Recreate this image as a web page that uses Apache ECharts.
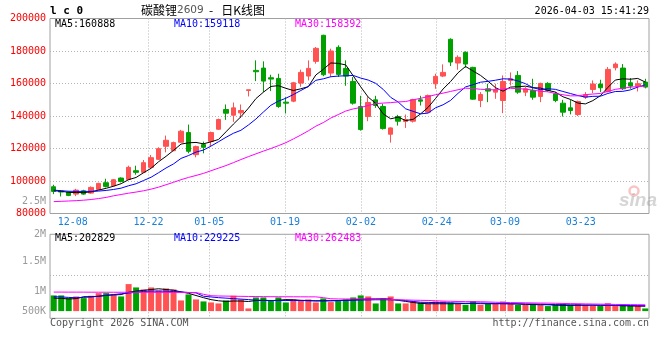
<!DOCTYPE html>
<html><head><meta charset="utf-8">
<script src="https://cdn.jsdelivr.net/npm/echarts@6/dist/echarts.min.js"></script>
<style>html,body{margin:0;padding:0;background:#fff}#c{width:660px;height:360px}</style>
</head><body><div id="c"></div>
<script>
const dates = ['12-03','12-04','12-05','12-08','12-09','12-10','12-11','12-12','12-15','12-16','12-17','12-18','12-19','12-22','12-23','12-24','12-25','12-26','12-29','12-30','12-31','01-05','01-06','01-07','01-08','01-09','01-12','01-13','01-14','01-15','01-16','01-19','01-20','01-21','01-22','01-23','01-26','01-27','01-28','01-29','01-30','02-02','02-03','02-04','02-05','02-06','02-09','02-10','02-11','02-12','02-13','02-24','02-25','02-26','02-27','03-02','03-03','03-04','03-05','03-06','03-09','03-10','03-11','03-12','03-13','03-16','03-17','03-18','03-19','03-20','03-23','03-24','03-25','03-26','03-27','03-30','03-31','04-01','04-02','04-03'];
const opens = [96460,93800,93170,91930,93990,92550,94810,98930,97080,101810,100990,106340,105310,108390,113330,121360,118680,123830,129790,116210,122390,124440,131850,143990,140490,141930,155720,168070,169500,163540,163130,148520,149140,160250,164570,173620,189670,166420,182260,169300,161270,145840,139670,149960,145840,128770,139670,136600,136790,149960,142350,159830,164570,187200,172590,179180,169910,149550,156750,154690,149550,161890,164980,154690,155720,152020,160040,153660,147900,145020,140900,151600,156340,159630,155100,169710,169500,160450,158390,160860];
const closes = [93580,93200,91110,94400,91930,96050,98520,96660,100780,99750,108390,105310,111280,114360,119920,125060,123620,130620,118270,121150,120740,129790,137820,141730,145020,143370,156130,167240,161480,162720,145840,147900,160450,166830,169300,181650,165390,180000,165600,164570,147900,131650,148310,146460,132260,132670,136790,137820,150160,149140,152630,164360,166830,173210,176090,171970,150370,153250,155310,156130,161270,162920,154690,156750,151600,160040,155720,149550,142350,143370,148930,153040,159630,157370,168680,171970,156750,158390,159830,157780];
const lows = [91930,90500,90700,90700,91500,92140,94400,96050,96660,99130,100780,103870,104900,107980,112920,117650,118270,123420,117040,114570,117040,121560,131440,137610,136380,138850,152020,161480,154690,155310,145020,141520,148500,158000,161900,172180,164500,163950,164000,158600,147000,131000,136790,145000,131650,123620,134110,132670,136000,146460,142000,156750,163950,170740,168480,169710,150000,145430,148520,150580,141730,158800,153660,152220,150000,148520,155000,148500,139670,141000,140000,150500,154070,154690,154500,168070,156000,156750,155100,157000];
const highs = [97690,94400,93600,95220,94600,96660,98930,101400,101190,102220,109420,109420,112920,116010,120740,127940,124240,131440,134730,121770,124240,130410,138400,147080,148310,147080,156130,174240,173620,165390,166010,151600,161000,168500,174240,182470,190000,181440,183500,174240,163950,152430,151600,152430,147490,133000,140700,140900,150600,152430,153200,166010,171770,187820,177320,179790,170300,154690,159830,159830,164980,166830,167650,157780,162920,160500,160800,154800,149960,149960,149500,154690,161890,162300,170120,173000,171970,163330,161890,162900];
const ma5 = [94000,93700,93000,92900,92840,93340,94400,95510,96790,98350,100820,102180,105100,107820,111850,115190,118850,122720,123500,123740,122880,124110,125550,130250,135020,139550,144810,150700,154650,158190,158680,157040,155680,156750,158060,165230,168720,172630,172390,171440,164690,157940,151610,147780,141320,138270,139300,137200,137940,141320,145310,150820,156620,161230,166620,170490,167690,164980,161400,157410,155270,157780,158060,158350,157450,157200,155760,154730,151850,150210,147980,147450,149460,152470,157530,162140,162880,162630,163120,160888];
const ma10 = [94400,94000,93700,93600,93600,93600,93800,94200,94800,95600,97080,98290,100310,102310,105100,108010,110520,113910,115660,117800,119040,121480,124140,126880,129380,131220,134460,138130,142450,146610,149120,150930,153190,155700,158130,161960,162880,164160,164570,164750,164960,163330,162120,160090,156380,151480,148620,144410,142860,141320,141790,145060,146910,149590,153970,157900,159260,160800,161320,162020,162880,162740,161520,159880,157430,156240,156770,156400,155100,153830,152590,151610,152100,152160,153870,155060,155170,156050,157800,159118];
const ma30 = [87300,87500,87700,87900,88200,88600,89200,89900,90900,91700,92500,93200,94000,95000,96200,97700,99200,100800,102200,103400,104700,106300,107900,109500,111300,113200,115000,116700,118400,120000,121740,123570,125880,128290,130870,133720,135950,138730,140890,143050,144370,145250,146480,147550,147960,148220,148660,148900,149960,150890,151950,153110,154070,155120,156160,157110,156920,156450,156250,156030,156540,157040,156850,156520,155930,155210,154880,153870,153090,152390,152420,153130,153510,153870,155090,156400,157060,157750,158070,158392];
const volumes = [653000,653000,542000,611000,542000,639000,750000,750000,694000,611000,1125000,986000,903000,986000,861000,944000,903000,444000,694000,486000,403000,361000,319000,444000,639000,486000,111000,569000,569000,444000,569000,361000,486000,444000,486000,361000,528000,375000,444000,486000,569000,653000,611000,319000,528000,611000,319000,319000,403000,361000,319000,403000,400000,361000,300000,264000,420000,260000,300000,330000,400000,300000,260000,260000,300000,260000,210000,260000,300000,260000,300000,260000,220000,220000,330000,220000,290000,220000,220000,111000];
const volMa5 = [542000,530000,505000,520000,600000,597000,617000,658000,675000,689000,786000,833000,864000,900000,930000,900000,870000,800000,740000,650000,560000,478000,430000,403000,420000,420000,400000,440000,450000,436000,452000,480000,470000,450000,440000,420000,430000,431000,440000,455000,472000,490000,505000,510000,514000,500000,450000,403000,360000,320000,306000,306000,306000,306000,310000,320000,330000,333000,325000,320000,315000,306000,295000,278000,272000,268000,264000,250000,236000,240000,245000,248000,250000,245000,240000,235000,222000,215000,208000,202829];
const volMa10 = [597000,590000,570000,556000,570000,597000,620000,653000,690000,722000,750000,790000,819000,833000,833000,830000,815000,800000,775000,760000,620000,590000,560000,540000,520000,500000,480000,455000,444000,444000,440000,440000,444000,440000,435000,435000,431000,431000,440000,445000,450000,460000,465000,472000,472000,470000,460000,440000,400000,370000,361000,355000,350000,340000,333000,320000,315000,310000,306000,306000,306000,306000,306000,300000,295000,290000,278000,272000,264000,260000,255000,250000,248000,245000,242000,240000,236000,233000,230000,229225];
const volMa30 = [792000,792000,790000,790000,790000,788000,788000,786000,786000,785000,785000,784000,784000,782000,782000,780000,780000,778000,776000,774000,700000,640000,630000,625000,620000,615000,610000,606000,603000,600000,598000,597000,596000,595000,594000,593000,560000,514000,505000,505000,505000,505000,505000,505000,505000,490000,472000,465000,455000,450000,444000,430000,417000,410000,400000,395000,392000,389000,380000,370000,361000,355000,350000,345000,340000,335000,333000,325000,318000,312000,306000,300000,295000,290000,285000,278000,275000,270000,266000,262483];
const xTickDates = ['12-08','12-22','01-05','01-19','02-02','02-24','03-09','03-23'];
const priceMin = 80000, priceMax = 200000, priceStep = 20000;
const volLabelValues = [0, 840000, 2090000, 3200000];
const volLabelTexts = ['500K','1M','1.5M','2M'];
const volGridValues = [670000, 1500000, 2330000];

const MONO = "'DejaVu Sans Mono', monospace";
const RED = '#ff5252', GREEN = '#00a000';
const last = a => a[a.length - 1];
const xTickIdx = xTickDates.map(d => dates.indexOf(d));
const kData = dates.map((d, i) => [opens[i], closes[i], lows[i], highs[i]]);
const volData = volumes.map((v, i) => ({ value: v, itemStyle: { color: closes[i] >= opens[i] ? RED : GREEN } }));
const dotted = { color: '#b4b4b4', width: 1, type: [1, 2] };

const chart = echarts.init(document.getElementById('c'), null, { renderer: 'canvas' });
const lineS = (name, data, color, xi, yi) => ({ name, type: 'line', data, xAxisIndex: xi, yAxisIndex: yi, symbol: 'none', showSymbol: false, smooth: false, lineStyle: { color, width: 1 }, z: 5, silent: true });
chart.setOption({
  animation: false,
  backgroundColor: '#fff',
  grid: [
    { left: 50, top: 18.5, width: 599, height: 195, show: true, borderColor: '#a0a0a0', borderWidth: 1 },
    { left: 50, top: 234.3, width: 599, height: 84, show: true, borderColor: '#a0a0a0', borderWidth: 1 }
  ],
  xAxis: [
    { type: 'category', gridIndex: 0, position: 'top', data: dates, boundaryGap: true, axisLine: { show: false }, axisTick: { show: false }, axisLabel: { show: false }, splitLine: { show: false } },
    { type: 'value', gridIndex: 0, position: 'bottom', min: 0, max: dates.length - 1, axisLine: { show: false },
      axisTick: { show: false, customValues: xTickIdx },
      axisLabel: { customValues: xTickIdx, formatter: v => dates[v], color: '#1a7fd8', fontFamily: MONO, fontSize: 10, margin: 4 },
      splitLine: { show: true, lineStyle: dotted, showMinLine: false, showMaxLine: false } },
    { type: 'category', gridIndex: 1, position: 'top', data: dates, boundaryGap: true, axisLine: { show: false }, axisTick: { show: false }, axisLabel: { show: false }, splitLine: { show: false } },
    { type: 'value', gridIndex: 1, position: 'bottom', min: 0, max: dates.length - 1, axisLine: { show: false },
      axisTick: { show: false, customValues: xTickIdx }, axisLabel: { show: false },
      splitLine: { show: true, lineStyle: dotted, showMinLine: false, showMaxLine: false } }
  ],
  yAxis: [
    { type: 'value', gridIndex: 0, min: priceMin, max: priceMax, interval: priceStep, axisLine: { show: false }, axisTick: { show: false },
      axisLabel: { formatter: v => String(v), color: '#ff0000', fontFamily: MONO, fontSize: 10, margin: 4, padding: [0, 0, 4, 0] },
      splitLine: { show: true, lineStyle: dotted, showMinLine: false, showMaxLine: false } },
    { type: 'value', gridIndex: 1, min: -300000, max: 3200000, axisLine: { show: false },
      axisTick: { show: false, customValues: volGridValues },
      axisLabel: { customValues: volLabelValues, formatter: v => volLabelTexts[volLabelValues.indexOf(v)], color: '#9a9a9a', fontFamily: MONO, fontSize: 10, margin: 4 },
      splitLine: { show: true, lineStyle: dotted, showMinLine: false, showMaxLine: false } }
  ],
  series: [
    { type: 'candlestick', xAxisIndex: 0, yAxisIndex: 0, data: kData, barWidth: 5, silent: true,
      itemStyle: { color: RED, color0: GREEN, borderColor: RED, borderColor0: GREEN, borderWidth: 1 } },
    lineS('MA5', ma5, '#000000', 0, 0),
    lineS('MA10', ma10, '#0000ff', 0, 0),
    lineS('MA30', ma30, '#ff00ff', 0, 0),
    { type: 'bar', xAxisIndex: 2, yAxisIndex: 1, data: volData, barWidth: 6, silent: true },
    lineS('VMA5', volMa5, '#000000', 2, 1),
    lineS('VMA10', volMa10, '#0000ff', 2, 1),
    lineS('VMA30', volMa30, '#ff00ff', 2, 1)
  ],
  graphic: [
    { type: 'text', x: 50, y: 11, style: { text: 'l c 0', font: 'bold 11px ' + MONO, fill: '#000', textVerticalAlign: 'middle', verticalAlign: 'middle' } },
    { type: 'text', x: 141, y: 10.5, style: { text: '{a|碳酸锂}{b|2609}{a|  -   日K线图}', fill: '#000', textVerticalAlign: 'middle', verticalAlign: 'middle',
        rich: { a: { fontFamily: "'Noto Sans CJK SC'", fontSize: 12, fill: '#000', color: '#000' }, b: { fontFamily: "'DejaVu Sans'", fontSize: 10.5, fill: '#555', color: '#555' } } } },
    { type: 'text', x: 649, y: 11.5, style: { text: '2026-04-03 15:41:29', font: '10px ' + MONO, fill: '#000', textAlign: 'right', align: 'right', textVerticalAlign: 'middle', verticalAlign: 'middle' } },
    { type: 'text', x: 55, y: 24, style: { text: 'MA5:' + last(ma5), font: '10px ' + MONO, fill: '#000', textVerticalAlign: 'middle', verticalAlign: 'middle' } },
    { type: 'text', x: 174, y: 24, style: { text: 'MA10:' + last(ma10), font: '10px ' + MONO, fill: '#0000ff', textVerticalAlign: 'middle', verticalAlign: 'middle' } },
    { type: 'text', x: 295, y: 24, style: { text: 'MA30:' + last(ma30), font: '10px ' + MONO, fill: '#ff00ff', textVerticalAlign: 'middle', verticalAlign: 'middle' } },
    { type: 'text', x: 55, y: 238.5, style: { text: 'MA5:' + last(volMa5), font: '10px ' + MONO, fill: '#000', textVerticalAlign: 'middle', verticalAlign: 'middle' } },
    { type: 'text', x: 174, y: 238.5, style: { text: 'MA10:' + last(volMa10), font: '10px ' + MONO, fill: '#0000ff', textVerticalAlign: 'middle', verticalAlign: 'middle' } },
    { type: 'text', x: 295, y: 238.5, style: { text: 'MA30:' + last(volMa30), font: '10px ' + MONO, fill: '#ff00ff', textVerticalAlign: 'middle', verticalAlign: 'middle' } },
    { type: 'text', x: 46, y: 201, style: { text: '2.5M', font: '10px ' + MONO, fill: '#9a9a9a', textAlign: 'right', align: 'right', textVerticalAlign: 'middle', verticalAlign: 'middle' } },
    { type: 'text', x: 50, y: 323.5, style: { text: 'Copyright 2026 SINA.COM', font: '10px ' + MONO, fill: '#555', textVerticalAlign: 'middle', verticalAlign: 'middle' } },
    { type: 'text', x: 649, y: 323.5, style: { text: 'http://finance.sina.com.cn', font: '10px ' + MONO, fill: '#555', textAlign: 'right', align: 'right', textVerticalAlign: 'middle', verticalAlign: 'middle' } },
    { type: 'circle', shape: { cx: 634, cy: 191, r: 4.5 }, style: { fill: 'none', stroke: 'rgba(235,90,90,0.35)', lineWidth: 2.5 }, silent: true },
    { type: 'text', x: 619, y: 201, style: { text: 'sina', font: 'italic bold 19px "Liberation Sans"', fill: 'rgba(150,150,150,0.4)', textVerticalAlign: 'middle', verticalAlign: 'middle' } }
  ]
});
</script></body></html>
